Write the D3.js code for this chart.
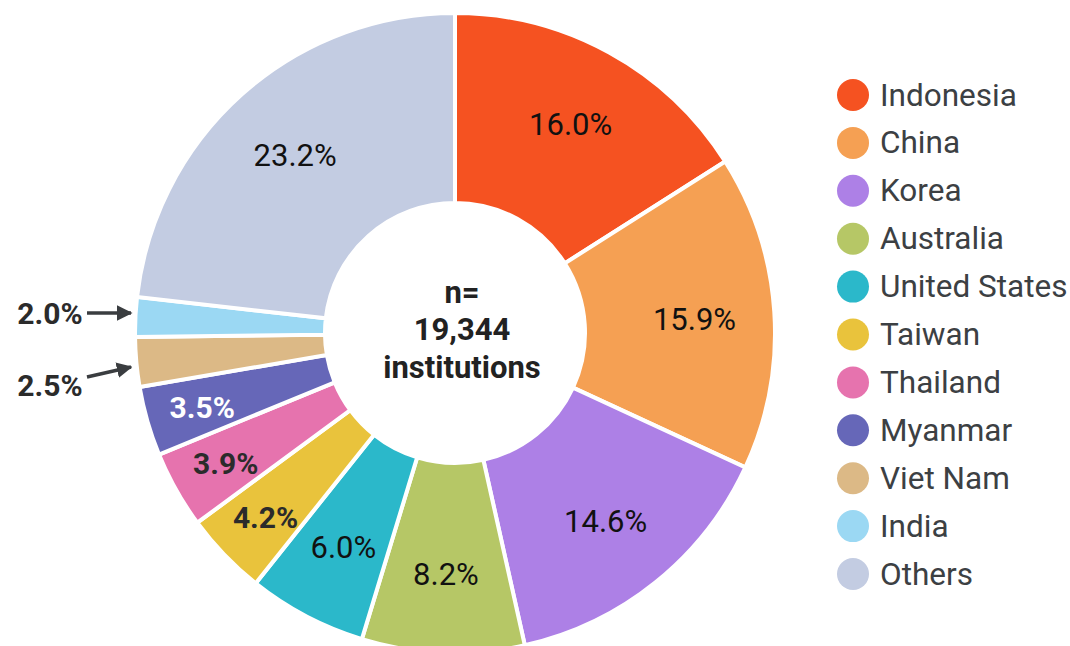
<!DOCTYPE html>
<html>
<head>
<meta charset="utf-8">
<script src="https://cdn.jsdelivr.net/npm/d3@7"></script>
<style>
  body { margin: 0; background: #fff; }
  text { font-family: Roboto, "Noto Sans", sans-serif; }
</style>
</head>
<body>
<script>
// data
var countries = ['Indonesia', 'China', 'Korea', 'Australia', 'United States', 'Taiwan',
  'Thailand', 'Myanmar', 'Viet Nam', 'India', 'Others'];
var shares = [16.0, 15.9, 14.6, 8.2, 6.0, 4.2, 3.9, 3.5, 2.5, 2.0, 23.2];
var colors = ['#f55221', '#f5a053', '#ad80e6', '#b6c766', '#2bb8ca', '#e9c33c',
  '#e673ae', '#6667b8', '#dcb986', '#9bd8f3', '#c3cce2'];
var centerLines = ['n=', '19,344', 'institutions'];

var width = 1070, height = 646;
var cx = 455, cy = 333;
var outerR = 320, innerR = 130;

var svg = d3.select('body').append('svg')
  .attr('width', width)
  .attr('height', height);

var defs = svg.append('defs');
defs.append('marker')
  .attr('id', 'arrow')
  .attr('viewBox', '0 0 10 10')
  .attr('refX', 9).attr('refY', 5)
  .attr('markerWidth', 4.5).attr('markerHeight', 4.5)
  .attr('orient', 'auto')
  .append('path')
    .attr('d', 'M0,0 L10,5 L0,10 Z')
    .attr('fill', '#3a3d40');

var pie = d3.pie().sort(null).value(function(d) { return d; });
var arcs = pie(shares);

var arc = d3.arc().innerRadius(innerR).outerRadius(outerR);

var chart = svg.append('g').attr('transform', 'translate(' + cx + ',' + cy + ')');

chart.selectAll('path.slice')
  .data(arcs)
  .enter().append('path')
    .attr('class', 'slice')
    .attr('d', arc)
    .attr('fill', function(d, i) { return colors[i]; })
    .attr('stroke', '#fff')
    .attr('stroke-width', 4)
    .attr('stroke-linejoin', 'miter');

// inside labels
var labelArc = d3.arc().innerRadius(240).outerRadius(240);
var smallArc = d3.arc().innerRadius(263).outerRadius(263);

arcs.forEach(function(d, i) {
  var v = shares[i];
  if (v < 3) return;
  var small = v < 5;
  var p = small ? smallArc.centroid(d) : labelArc.centroid(d);
  chart.append('text')
    .attr('x', p[0]).attr('y', p[1] + 2)
    .attr('text-anchor', 'middle')
    .attr('dominant-baseline', 'central')
    .attr('font-size', small ? 30 : 31)
    .attr('font-weight', small ? 'bold' : 'normal')
    .attr('fill', countries[i] == 'Myanmar' ? '#fff' : (small ? '#2b2b2b' : '#111'))
    .text(v.toFixed(1) + '%');
});

// outside labels with arrows for the thin slices
var outside = [
  { idx: 9, tx: 50, ty: 313, x1: 87, y1: 313, x2: 131, y2: 313 },
  { idx: 8, tx: 50, ty: 385, x1: 87, y1: 377, x2: 131, y2: 367 }
];
outside.forEach(function(o) {
  svg.append('text')
    .attr('x', o.tx).attr('y', o.ty)
    .attr('text-anchor', 'middle')
    .attr('dominant-baseline', 'central')
    .attr('font-size', 30)
    .attr('font-weight', 'bold')
    .attr('fill', '#2b2b2b')
    .text(shares[o.idx].toFixed(1) + '%');
  svg.append('line')
    .attr('x1', o.x1).attr('y1', o.y1)
    .attr('x2', o.x2).attr('y2', o.y2)
    .attr('stroke', '#3a3d40')
    .attr('stroke-width', 3.5)
    .attr('marker-end', 'url(#arrow)');
});

// center text
centerLines.forEach(function(t, i) {
  chart.append('text')
    .attr('x', 7).attr('y', -41 + i * 37.5)
    .attr('text-anchor', 'middle')
    .attr('dominant-baseline', 'central')
    .attr('font-size', 31)
    .attr('font-weight', 'bold')
    .attr('fill', '#222')
    .text(t);
});

// legend
var legend = svg.append('g').attr('transform', 'translate(853,95)');
var item = legend.selectAll('g.item')
  .data(countries)
  .enter().append('g')
    .attr('class', 'item')
    .attr('transform', function(d, i) { return 'translate(0,' + (i * 47.9) + ')'; });
item.append('circle')
  .attr('r', 16)
  .attr('fill', function(d, i) { return colors[i]; });
item.append('text')
  .attr('x', 27)
  .attr('dominant-baseline', 'central')
  .attr('font-size', 31.5)
  .attr('fill', '#3c4043')
  .text(function(d) { return d; });
</script>
</body>
</html>
